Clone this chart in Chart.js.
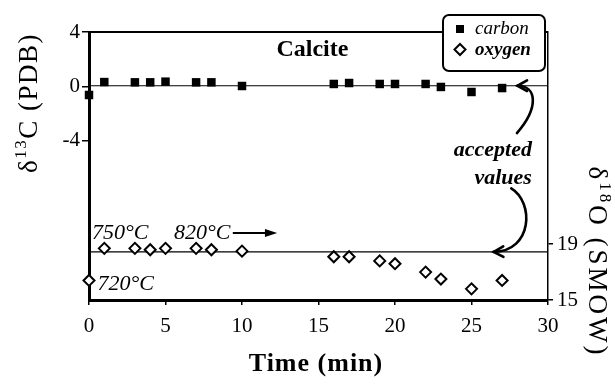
<!DOCTYPE html>
<html>
<head>
<meta charset="utf-8">
<script src="https://cdn.jsdelivr.net/npm/chart.js@4.4.1/dist/chart.umd.min.js"></script>
<style>
  html, body { margin: 0; padding: 0; background: #fff; }
  #wrap { width: 615px; height: 384px; }
</style>
</head>
<body>
<div id="wrap"><canvas id="calcChart" width="615" height="384"></canvas></div>
<script>
// data
const times  = [0, 1, 3, 4, 5, 7, 8, 10, 16, 17, 19, 20, 22, 23, 25, 27];
const carbon = [-0.63, 0.32, 0.3, 0.3, 0.35, 0.3, 0.3, 0.03, 0.18, 0.25, 0.18, 0.18, 0.18, -0.04, -0.41, -0.12];
const oxygen = [16.4, 18.7, 18.7, 18.6, 18.7, 18.7, 18.6, 18.5, 18.1, 18.1, 17.8, 17.6, 17.0, 16.5, 15.8, 16.4];

const acceptedCarbon = [0.05, 0.05];
const acceptedOxygen = [18.45, 18.45];
const acceptedSpan = [0, 30];

const xTicks = [0, 5, 10, 15, 20, 25, 30];
const carbonTicks = [4, 0, -4];
const oxygenTicks = [19, 15];

const SERIF = '"Liberation Serif", "Times New Roman", serif';

function pts(xs, ys) {
    return xs.map((t, i) => ({ x: t, y: ys[i] }));
}

// rotated axis title with a superscript part
function rotatedTitle(ctx, cx, cy, angle, pre, sup, post, spacing) {
    ctx.save();
    ctx.translate(cx, cy);
    ctx.rotate(angle);
    ctx.letterSpacing = spacing;
    const big = '27px ' + SERIF, small = '17px ' + SERIF;
    ctx.font = big;
    const w1 = ctx.measureText(pre).width;
    const w3 = ctx.measureText(post).width;
    ctx.font = small;
    const w2 = ctx.measureText(sup).width;
    let x0 = -(w1 + w2 + w3) / 2;
    ctx.fillStyle = '#000';
    ctx.textBaseline = 'alphabetic';
    ctx.textAlign = 'left';
    ctx.font = big;
    ctx.fillText(pre, x0, 9);
    ctx.font = small;
    ctx.fillText(sup, x0 + w1, -2);
    ctx.font = big;
    ctx.fillText(post, x0 + w1 + w2, 9);
    ctx.restore();
}

function openHead(ctx, tx, ty, fromX, fromY, len) {
    const ang = Math.atan2(ty - fromY, tx - fromX);
    ctx.beginPath();
    ctx.moveTo(tx - len * Math.cos(ang - 0.5), ty - len * Math.sin(ang - 0.5));
    ctx.lineTo(tx, ty);
    ctx.lineTo(tx - len * Math.cos(ang + 0.5), ty - len * Math.sin(ang + 0.5));
    ctx.stroke();
}

const notes = {
    id: 'notes',
    afterDraw(chart) {
        const { ctx, chartArea: a, scales } = chart;
        const X = scales.x, Y = scales.y, Y2 = scales.y2;
        const px = t => X.getPixelForValue(t);
        const py = v => Y.getPixelForValue(v);
        const py2 = v => Y2.getPixelForValue(v);

        ctx.save();
        ctx.strokeStyle = '#000';
        ctx.fillStyle = '#000';

        // top frame line
        ctx.lineWidth = 2;
        ctx.beginPath();
        ctx.moveTo(a.left, a.top);
        ctx.lineTo(a.right, a.top);
        ctx.stroke();

        // sample name
        ctx.font = 'bold 24px ' + SERIF;
        ctx.textAlign = 'center';
        ctx.textBaseline = 'middle';
        ctx.fillText('Calcite', px(14.6), py(2.68));

        // temperatures
        ctx.font = 'italic 22px ' + SERIF;
        ctx.textAlign = 'left';
        ctx.fillText('750°C', px(0.2), py2(19.8));
        ctx.fillText('820°C', px(5.56), py2(19.8));
        ctx.fillText('720°C', px(0.55), py2(16.14));
        ctx.lineWidth = 2;
        ctx.beginPath();
        ctx.moveTo(px(9.4), py2(19.8));
        ctx.lineTo(px(11.8), py2(19.8));
        ctx.stroke();
        ctx.beginPath();
        ctx.moveTo(px(12.3), py2(19.8));
        ctx.lineTo(px(11.5), py2(19.8) - 4);
        ctx.lineTo(px(11.5), py2(19.8) + 4);
        ctx.closePath();
        ctx.fill();

        // accepted values label
        ctx.font = 'italic bold 22px ' + SERIF;
        ctx.textAlign = 'right';
        ctx.fillText('accepted', px(28.95), py(-4.68));
        ctx.fillText('values', px(28.95), py(-6.74));

        // curved arrows
        ctx.lineWidth = 2.6;
        ctx.lineCap = 'round';
        let s = [px(27.97), py(-3.43)], c1 = [px(29.4), py(-1.6)], c2 = [px(29.3), py(0.05)], e = [px(28.0), py(0.05)];
        ctx.beginPath();
        ctx.moveTo(s[0], s[1]);
        ctx.bezierCurveTo(c1[0], c1[1], c2[0], c2[1], e[0], e[1]);
        ctx.stroke();
        openHead(ctx, e[0], e[1], c2[0], c2[1], 11);

        s = [px(27.6), py2(23.0)]; c1 = [px(29.1), py2(22.0)]; c2 = [px(29.0), py2(18.5)]; e = [px(26.45), py2(18.45)];
        ctx.beginPath();
        ctx.moveTo(s[0], s[1]);
        ctx.bezierCurveTo(c1[0], c1[1], c2[0], c2[1], e[0], e[1]);
        ctx.stroke();
        openHead(ctx, e[0], e[1], c2[0], c2[1], 11);

        // legend box
        const lx = a.right - 105, ly = a.top - 17, lw = 102, lh = 56;
        ctx.lineWidth = 2;
        ctx.fillStyle = '#fff';
        ctx.beginPath();
        ctx.roundRect(lx, ly, lw, lh, 6);
        ctx.fill();
        ctx.stroke();
        ctx.fillStyle = '#000';
        ctx.fillRect(lx + 13, ly + 10, 8, 8);
        ctx.lineWidth = 2;
        ctx.beginPath();
        ctx.moveTo(lx + 17, ly + 29);
        ctx.lineTo(lx + 22.5, ly + 34.5);
        ctx.lineTo(lx + 17, ly + 40);
        ctx.lineTo(lx + 11.5, ly + 34.5);
        ctx.closePath();
        ctx.stroke();
        ctx.textAlign = 'left';
        ctx.font = 'italic 19px ' + SERIF;
        ctx.fillText('carbon', lx + 32, ly + 14);
        ctx.font = 'italic bold 19px ' + SERIF;
        ctx.fillText('oxygen', lx + 32, ly + 35);

        // axis titles
        rotatedTitle(ctx, 28, 103, -Math.PI / 2, 'δ', '13', 'C (PDB)', '1.5px');
        rotatedTitle(ctx, 598, 262, Math.PI / 2, 'δ', '18', 'O (SMOW)', '3px');

        ctx.font = 'bold 26px ' + SERIF;
        ctx.textAlign = 'center';
        ctx.textBaseline = 'middle';
        ctx.letterSpacing = '1px';
        ctx.fillText('Time (min)', 316, 364);
        ctx.restore();
    }
};

const tickFont = { family: SERIF, size: 21 };

new Chart(document.getElementById('calcChart'), {
    type: 'scatter',
    data: {
        datasets: [
            {
                label: 'carbon',
                data: pts(times, carbon),
                yAxisID: 'y',
                pointStyle: 'rect',
                pointRadius: 6,
                pointBackgroundColor: '#000',
                pointBorderColor: '#000',
                pointBorderWidth: 0,
                clip: false
            },
            {
                label: 'oxygen',
                data: pts(times, oxygen),
                yAxisID: 'y2',
                pointStyle: 'rectRot',
                pointRadius: 5.5,
                pointBackgroundColor: '#fff',
                pointBorderColor: '#000',
                pointBorderWidth: 2,
                clip: false
            },
            {
                type: 'line',
                data: pts(acceptedSpan, acceptedCarbon),
                yAxisID: 'y',
                borderColor: '#000',
                borderWidth: 1.2,
                pointRadius: 0
            },
            {
                type: 'line',
                data: pts(acceptedSpan, acceptedOxygen),
                yAxisID: 'y2',
                borderColor: '#000',
                borderWidth: 1.2,
                pointRadius: 0
            }
        ]
    },
    options: {
        responsive: false,
        animation: false,
        layout: { padding: { top: 32, left: 0, right: 0, bottom: 0 } },
        plugins: {
            legend: { display: false },
            tooltip: { enabled: false }
        },
        scales: {
            x: {
                type: 'linear',
                min: 0,
                max: 30,
                afterBuildTicks: s => { s.ticks = xTicks.map(v => ({ value: v })); },
                afterFit: s => { s.height = 84; },
                ticks: { font: tickFont, color: '#000', padding: 9, maxRotation: 0 },
                grid: { drawOnChartArea: false, tickLength: 5, color: '#000', lineWidth: 1.5 },
                border: { display: true, width: 3, color: '#000' }
            },
            y: {
                position: 'left',
                min: -15.7,
                max: 4,
                afterBuildTicks: s => { s.ticks = carbonTicks.map(v => ({ value: v })); },
                afterFit: s => { s.width = 89; },
                ticks: { font: tickFont, color: '#000', padding: 2 },
                grid: { drawOnChartArea: false, tickLength: 7, color: '#000', lineWidth: 1.5 },
                border: { display: true, width: 3, color: '#000' }
            },
            y2: {
                position: 'right',
                min: 15,
                max: 34.2,
                afterBuildTicks: s => { s.ticks = oxygenTicks.map(v => ({ value: v })); },
                afterFit: s => { s.width = 67; },
                ticks: { font: tickFont, color: '#000', padding: 4 },
                grid: { drawOnChartArea: false, tickLength: 5, color: '#000', lineWidth: 1.5 },
                border: { display: true, width: 1.5, color: '#000' }
            }
        }
    },
    plugins: [notes]
});
</script>
</body>
</html>
